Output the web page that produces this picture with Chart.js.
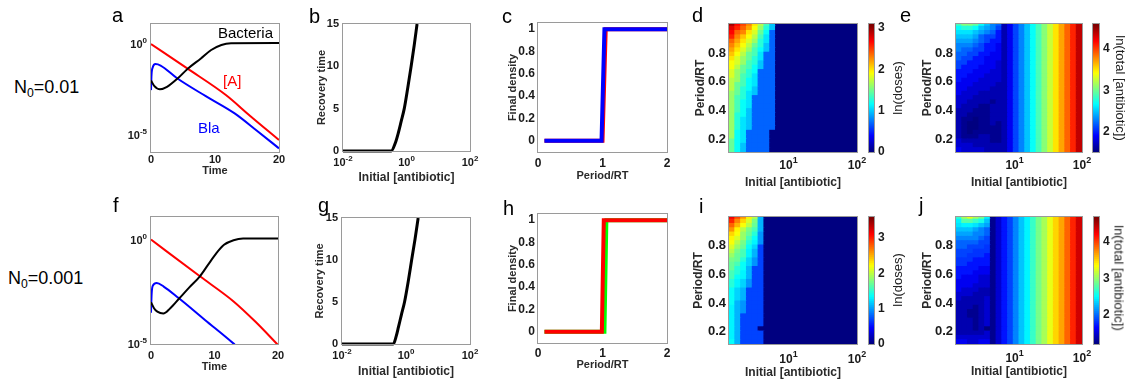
<!DOCTYPE html>
<html>
<head>
<meta charset="utf-8">
<title>Antibiotic dosing panels</title>
<script src="https://cdn.jsdelivr.net/npm/chart.js"></script>
<style>
  html, body { margin: 0; padding: 0; background: #fff; }
  body { position: relative; width: 1131px; height: 383px; overflow: hidden; font-family: "Liberation Sans", Arial, sans-serif; }
  canvas { position: absolute; }
  .t { position: absolute; white-space: nowrap; }
  .t sub { font-size: 0.68em; vertical-align: -0.32em; line-height: 0; }
</style>
</head>
<body>
<script>
const tBacteriaA = [0, 0.5, 1.4, 2.5, 4.2, 5.7, 7.8, 9.4, 11, 12.5, 20];
const bacteriaA = [-2.0, -2.3, -2.49, -2.35, -1.88, -1.37, -0.79, -0.33, -0.05, 0.04, 0.05];
const tAntibioticA = [0, 5.66, 11.7, 15.5, 20];
const antibioticA = [0, -1.34, -2.8, -3.95, -5.27];
const tBlaA = [0, 0.08, 0.25, 0.7, 1.5, 4.08, 8.5, 13.07, 16.5, 20];
const blaA = [-2.53, -1.7, -1.3, -1.1, -1.18, -1.88, -2.85, -3.81, -4.75, -5.73];

const tBacteriaF = [0, 0.5, 1, 1.94, 3, 4.5, 6, 7.7, 9, 10.3, 11.5, 13, 14.5, 20];
const bacteriaF = [-3.0, -3.3, -3.45, -3.54, -3.3, -2.8, -2.3, -1.76, -1.2, -0.65, -0.25, -0.03, 0.05, 0.05];
const tAntibioticF = [0, 7.7, 12.96, 16.5, 20];
const antibioticF = [0, -1.76, -2.95, -3.95, -5.05];
const tBlaF = [0, 0.1, 0.3, 0.9, 2, 4.3, 8.5, 12.96, 13.5];
const blaF = [-3.5, -2.6, -2.2, -2.08, -2.25, -2.79, -3.85, -4.97, -5.12];

// --- recovery time vs initial antibiotic (b, g) ---
const recDoseB = [0.01, 0.33, 0.45, 0.54, 0.68, 0.85, 1.1, 1.4, 1.75, 2.15];
const recTimeB = [0, 0, 1, 2, 3.5, 5, 7.5, 10, 12.5, 15];
const recDoseG = [0.01, 0.4, 0.5, 0.58, 0.72, 0.9, 1.18, 1.5, 1.92, 2.4];
const recTimeG = [0, 0, 1, 2, 3.5, 5, 7.5, 10, 12.5, 15];

// --- final density vs period (c, h) ---
const periodBlueC = [0.1, 0.985, 1.03, 2];
const densityBlueC = [0, 0, 1, 1];
const periodRedC = [0.1, 1.0, 1.05, 2];
const densityRedC = [0, 0, 1, 1];
const periodRedH = [0.1, 0.99, 1.02, 2];
const densityRedH = [0, 0, 1, 1];
const periodGreenH = [0.1, 1.03, 1.06, 2];
const densityGreenH = [0, 0, 1, 1];

// --- heatmap grid (d, e, i, j) ---
const initialEdges = [1.349, 1.641, 1.995, 2.427, 2.951, 3.589, 4.365, 5.309, 6.457, 7.852, 9.550, 11.61,
  14.13, 17.18, 20.89, 25.41, 30.90, 37.58, 45.71, 55.59, 67.61, 82.22, 100];
const periods = [1.00, 0.97, 0.94, 0.91, 0.88, 0.85, 0.82, 0.79, 0.76, 0.73, 0.70, 0.67, 0.64, 0.61, 0.58,
  0.55, 0.52, 0.49, 0.46, 0.43, 0.40, 0.37, 0.34, 0.31, 0.28, 0.25, 0.22, 0.19, 0.16, 0.13];
// one character per cell, value = index in LEVELS / 10 ; rows from period 1.00 down to 0.13
const LEVELS = '0123456789abcdefghijklmnopqrstuvwxyzABCDEFGHIJKLMNOPQRSTUVWXYZ';
const dosesN01 = [
  'urpnkhea00000000000000', 'sqomjgda00000000000000', 'ronkifc700000000000000', 'qnljheb700000000000000',
  'omkigdb700000000000000', 'nljhfda700000000000000', 'mkigeca700000000000000', 'ljhfeb7700000000000000',
  'kigfdb7700000000000000', 'jigeda7700000000000000', 'jhfeca7700000000000000', 'igfdc77700000000000000',
  'igedb77700000000000000', 'hgecb77700000000000000', 'hfecb77700000000000000', 'hfdca77700000000000000',
  'gfdba77700000000000000', 'gedb777700000000000000', 'gecb777700000000000000', 'gecb777700000000000000',
  'geca777700000000000000', 'gdca777700000000000000', 'gdba777700000000000000', 'gdba777700000000000000',
  'gdba777700000000000000', 'gcb7777000000000000000', 'gcb7777000000000000000', 'fcb7777000000000000000',
  'fca7777000000000000000', 'fca7777000000000000000'
];
const totalN01 = [
  'tvvurpnmhjlnprtvxzBDFI', 'rssrponlhjlnprtvxzBDFI', 'qqqponmkhjlnprtvxzBDFI', 'pppomllkhjlnprtvxzBDFI',
  'ooonmlkkhjlnprtvxzBDFI', 'nnnmlkkjhjlnprtvxzBDFI', 'nmmllkkjhjlnprtvxzBDFI', 'mmllkkjjhjlnprtvxzBDFI',
  'mllkkjjjhjlnprtvxzBDFI', 'llkkkjjihjlnprtvxzBDFI', 'lkkkjjjihjlnprtvxzBDFI', 'kkkjjjiihjlnprtvxzBDFI',
  'kkjjjiiihjlnprtvxzBDFI', 'kjjjiiiihjlnprtvxzBDFI', 'jjjiiiihhjlnprtvxzBDFI', 'jjiiiihhhjlnprtvxzBDFI',
  'jiiihhhhhjlnprtvxzBDFI', 'iiihhhhhhjlnprtvxzBDFI', 'iihhhhghhjlnprtvxzBDFI', 'ihhhgghhhjlnprtvxzBDFI',
  'hhhggghhhjlnprtvxzBDFI', 'hhgggghhhjlnprtvxzBDFI', 'hggfgghhhjlnprtvxzBDFI', 'hgffgghghjlnprtvxzBDFI',
  'hgffgggghjlnprtvxzBDFI', 'hgfggggghjlnprtvxzBDFI', 'hggghhgghjlnprtvxzBDFI', 'ihhhhhgghjlnprtvxzBDFI',
  'iiihhhhhhjlnprtvxzBDFI', 'jiiiihhhhjlnprtvxzBDFI'
];
const dosesN001 = [
  'wtqnkb0000000000000000', 'urolib0000000000000000', 'spmkhb0000000000000000', 'qnkigb0000000000000000',
  'omjhfa0000000000000000', 'nljgea0000000000000000', 'mkifda0000000000000000', 'ljhec70000000000000000',
  'kigdb70000000000000000', 'jhgdb70000000000000000', 'ihfca70000000000000000', 'hgeca70000000000000000',
  'hfeb770000000000000000', 'gfdb770000000000000000', 'gedb770000000000000000', 'fdca770000000000000000',
  'fdca770000000000000000', 'ecb7770000000000000000', 'ecb7770000000000000000', 'ecb7770000000000000000',
  'eba7770000000000000000', 'dba7770000000000000000', 'dba7770000000000000000', 'db77770000000000000000',
  'db77770000000000000000', 'db77770000000000000000', 'db77700000000000000000', 'db77770000000000000000',
  'db77770000000000000000', 'eb77770000000000000000'
];
const totalN001 = [
  'rvxvtpdfhjlnprtvxzBDFI', 'pssrqndfhjlnprtvxzBDFI', 'opponmdfhjlnprtvxzBDFI', 'nnnmlkdfhjlnprtvxzBDFI',
  'mmmllkdfhjlnprtvxzBDFI', 'llllkjdfhjlnprtvxzBDFI', 'kkkkjjdfhjlnprtvxzBDFI', 'kkjjjidfhjlnprtvxzBDFI',
  'jjjiiidfhjlnprtvxzBDFI', 'jjiiihdfhjlnprtvxzBDFI', 'iiihhhdfhjlnprtvxzBDFI', 'iihhhhdfhjlnprtvxzBDFI',
  'hhhhggdfhjlnprtvxzBDFI', 'hhhgggdfhjlnprtvxzBDFI', 'hgggffdfhjlnprtvxzBDFI', 'ggggffdfhjlnprtvxzBDFI',
  'gggfffdfhjlnprtvxzBDFI', 'gfffeedfhjlnprtvxzBDFI', 'fffeeedfhjlnprtvxzBDFI', 'feeeefdfhjlnprtvxzBDFI',
  'eeeeefdfhjlnprtvxzBDFI', 'eeedefdfhjlnprtvxzBDFI', 'eeddefdfhjlnprtvxzBDFI', 'eeddefdfhjlnprtvxzBDFI',
  'eeedefdfhjlnprtvxzBDFI', 'eeedefdfhjlnprtvxzBDFI', 'eeedecdfhjlnprtvxzBDFI', 'eeeeefdfhjlnprtvxzBDFI',
  'ffffffdfhjlnprtvxzBDFI', 'ggffggdfhjlnprtvxzBDFI'
];

// --- shared look ---
const FONT = '"Liberation Sans", Arial, sans-serif';
Chart.defaults.font.family = FONT;
Chart.defaults.font.size = 11;
Chart.defaults.font.weight = 'bold';
Chart.defaults.color = '#1a1a1a';

function jet(f) {
  f = Math.min(1, Math.max(0, f));
  f = Math.floor(f * 63.999) / 63;
  const c = v => Math.round(255 * Math.min(1, Math.max(0, v)));
  return `rgb(${c(1.5 - Math.abs(4 * f - 3))},${c(1.5 - Math.abs(4 * f - 2))},${c(1.5 - Math.abs(4 * f - 1))})`;
}

// grey box round the plot area
const boxFrame = {
  id: 'boxFrame',
  afterDatasetsDraw(chart) {
    const { ctx, chartArea: a } = chart;
    ctx.save();
    ctx.strokeStyle = '#9a9a9a';
    ctx.lineWidth = 1;
    ctx.strokeRect(Math.round(a.left) - 0.5, Math.round(a.top) - 0.5, Math.round(a.width) + 1, Math.round(a.height) + 1);
    ctx.restore();
  }
};

// "10" with a raised exponent for log axes
const powTicks = {
  id: 'powTicks',
  afterDraw(chart, args, opts) {
    const ctx = chart.ctx, area = chart.chartArea;
    const size = opts.size || 11, supSize = Math.round(size * 0.72);
    ['x', 'y'].forEach(id => {
      const exps = opts[id];
      if (!exps) return;
      const scale = chart.scales[id];
      exps.forEach(p => {
        const pix = scale.getPixelForValue(Math.pow(10, p));
        const sup = String(p);
        ctx.save();
        ctx.fillStyle = '#1a1a1a';
        ctx.textBaseline = 'alphabetic';
        ctx.font = `bold ${size}px ${FONT}`;
        const wBase = ctx.measureText('10').width;
        ctx.font = `bold ${supSize}px ${FONT}`;
        const wSup = ctx.measureText(sup).width;
        let left, base;
        if (id === 'x') {
          left = pix - (wBase + wSup) / 2;
          base = area.bottom + opts.pad + size * 0.72;
        } else {
          left = area.left - opts.pad - wBase - wSup;
          base = pix + size * 0.36;
        }
        ctx.font = `bold ${size}px ${FONT}`;
        ctx.fillText('10', left, base);
        ctx.font = `bold ${supSize}px ${FONT}`;
        ctx.fillText(sup, left + wBase, base - size * 0.45);
        ctx.restore();
      });
    });
  }
};

function axis(o) {
  return {
    type: o.type || 'linear',
    position: o.position,
    min: o.min, max: o.max,
    offset: false,
    grid: { display: false, drawTicks: false },
    border: { display: false },
    ticks: {
      display: !!o.ticks, padding: o.pad || 3, autoSkip: false, maxRotation: 0, font: { size: o.font || 11 },
      callback: v => String(Math.round(v * 100) / 100)
    },
    afterBuildTicks: s => { s.ticks = (o.ticks || []).map(v => ({ value: v })); },
    afterFit: s => {
      if (s.isHorizontal()) s.height = o.size; else s.width = o.size;
      s.paddingLeft = s.paddingRight = s.paddingTop = s.paddingBottom = 0;
    },
    title: o.title
      ? { display: true, text: o.title, padding: 0, font: { size: o.titleSize || 11 }, color: '#2a2a2a' }
      : { display: false }
  };
}

function makeChart(box, m, config) {
  const cv = document.createElement('canvas');
  cv.width = box.w + m.l + m.r;
  cv.height = box.h + m.t + m.b;
  cv.style.left = (box.x - m.l) + 'px';
  cv.style.top = (box.y - m.t) + 'px';
  cv.style.width = cv.width + 'px';
  cv.style.height = cv.height + 'px';
  document.body.appendChild(cv);
  const o = config.options;
  o.responsive = false;
  o.animation = false;
  o.devicePixelRatio = 1;
  o.events = [];
  o.layout = { padding: m.pad || { left: 0, top: m.t, right: m.r, bottom: 0 } };
  o.plugins = Object.assign({ legend: { display: false }, tooltip: { enabled: false } }, o.plugins);
  config.plugins = [boxFrame, powTicks];
  return new Chart(cv, config);
}

function curve(xs, ys, color, width, logY) {
  return {
    data: xs.map((x, i) => ({ x, y: logY ? Math.pow(10, ys[i]) : ys[i] })),
    borderColor: color, borderWidth: width, pointRadius: 0, fill: false,
    cubicInterpolationMode: 'monotone'
  };
}

function steps(xs, ys, color) {
  return { data: xs.map((x, i) => ({ x, y: ys[i] })), borderColor: color, borderWidth: 4, pointRadius: 0, tension: 0, clip: 4 };
}

function timePanel(box, m, sets, yMinExp, yMaxExp) {
  makeChart(box, m, {
    type: 'line',
    data: { datasets: sets },
    options: {
      scales: {
        x: axis({ type: 'linear', min: 0, max: 20, ticks: [0, 10, 20], size: m.b, pad: m.tickPad, title: 'Time' }),
        y: axis({ type: 'logarithmic', min: Math.pow(10, yMinExp), max: Math.pow(10, yMaxExp), size: m.l })
      },
      plugins: { powTicks: { y: [0, -5], pad: 4, size: 11 } }
    }
  });
}

function recoveryPanel(box, m, doses, times) {
  const set = curve(doses, times, '#000', 3, false);
  set.clip = 4;
  makeChart(box, m, {
    type: 'line',
    data: { datasets: [set] },
    options: {
      scales: {
        x: axis({ type: 'logarithmic', min: 0.01, max: 100, size: m.b, title: 'Initial [antibiotic]', titleSize: 12 }),
        y: axis({ min: 0, max: 15, ticks: [0, 5, 10, 15], size: m.l, pad: 4, title: 'Recovery time' })
      },
      plugins: { powTicks: { x: [-2, 0, 2], pad: 7, size: 11 } }
    }
  });
}

function densityPanel(box, m, sets) {
  makeChart(box, m, {
    type: 'line',
    data: { datasets: sets },
    options: {
      scales: {
        x: axis({ min: 0, max: 2, ticks: [0, 1, 2], size: m.b, pad: m.tickPad, font: 12, title: 'Period/RT' }),
        y: axis({ min: -0.1, max: 1.055, ticks: [0, 0.2, 0.4, 0.6, 0.8, 1], size: m.l, pad: 3, font: 12, title: 'Final density' })
      }
    }
  });
}

function heatmap(box, m, rows, cmin, cmax) {
  const cells = [], colors = [];
  rows.forEach((row, r) => {
    [...row].forEach((ch, c) => {
      const v = LEVELS.indexOf(ch) / 10;
      cells.push({ y: periods[r], x: [initialEdges[c], initialEdges[c + 1]] });
      colors.push(jet((v - cmin) / (cmax - cmin)));
    });
  });
  makeChart(box, m, {
    type: 'bar',
    data: { datasets: [{ data: cells, backgroundColor: colors, borderWidth: 0, barPercentage: 1, categoryPercentage: 1, inflateAmount: 0.5 }] },
    options: {
      indexAxis: 'y',
      scales: {
        x: axis({ type: 'logarithmic', min: initialEdges[0], max: 100, size: m.b, title: 'Initial [antibiotic]', titleSize: 12 }),
        y: axis({ min: 0.115, max: 1.0, ticks: [0.2, 0.4, 0.6, 0.8], size: m.l, pad: 3, font: 13, title: 'Period/RT', titleSize: 12 })
      },
      plugins: { powTicks: { x: [1, 2], pad: m.tickPad, size: 12 } }
    }
  });
}

function colorbar(box, cmin, cmax, ticks) {
  const n = 64, step = (cmax - cmin) / n;
  const bands = [], colors = [];
  for (let k = 0; k < n; k++) {
    bands.push({ x: 'c', y: [cmin + k * step, cmin + (k + 1) * step] });
    colors.push(jet((k + 0.5) / n));
  }
  const m = { l: 4, t: 10, r: 24, b: 10 };
  m.pad = { left: m.l, top: m.t, right: 0, bottom: m.b };
  makeChart(box, m, {
    type: 'bar',
    data: { labels: ['c'], datasets: [{ data: bands, backgroundColor: colors, borderWidth: 0, barPercentage: 1, categoryPercentage: 1, inflateAmount: 0.5 }] },
    options: {
      scales: {
        x: { type: 'category', display: false },
        y: axis({ position: 'right', min: cmin, max: cmax, ticks, size: m.r, pad: 4, font: 12 })
      }
    }
  });
}

// --- row N0 = 0.01 ---
timePanel({ x: 151, y: 24, w: 128, h: 128 }, { l: 50, t: 10, r: 20, b: 26, tickPad: 1 }, [
  curve(tBacteriaA, bacteriaA, '#000000', 2, true),
  curve(tAntibioticA, antibioticA, '#ff0000', 2, true),
  curve(tBlaA, blaA, '#0000ff', 2, true)
], -5.93, 1.1);
recoveryPanel({ x: 343, y: 24, w: 127, h: 127 }, { l: 28, t: 10, r: 20, b: 34 }, recDoseB, recTimeB);
densityPanel({ x: 538, y: 23, w: 129, h: 129 }, { l: 32, t: 10, r: 15, b: 31, tickPad: 4 }, [
  steps(periodBlueC, densityBlueC, '#0000ff'),
  steps(periodRedC, densityRedC, '#ff0000')
]);
heatmap({ x: 729, y: 24, w: 128, h: 128 }, { l: 36, t: 10, r: 15, b: 38, tickPad: 8 }, dosesN01, 0, 3.1);
colorbar({ x: 869, y: 24, w: 5, h: 128 }, 0, 3.1, [0, 1, 2, 3]);
heatmap({ x: 956, y: 24, w: 126, h: 128 }, { l: 36, t: 10, r: 15, b: 38, tickPad: 8 }, totalN01, 1.52, 4.6);
colorbar({ x: 1093, y: 24, w: 6, h: 128 }, 1.52, 4.6, [2, 3, 4]);

// --- row N0 = 0.001 ---
timePanel({ x: 151, y: 217, w: 127, h: 127 }, { l: 50, t: 10, r: 20, b: 30, tickPad: 5 }, [
  curve(tBacteriaF, bacteriaF, '#000000', 2, true),
  curve(tAntibioticF, antibioticF, '#ff0000', 2, true),
  curve(tBlaF, blaF, '#0000ff', 2, true)
], -5, 1.08);
recoveryPanel({ x: 342, y: 218, w: 128, h: 126 }, { l: 29, t: 10, r: 20, b: 35 }, recDoseG, recTimeG);
densityPanel({ x: 538, y: 214, w: 129, h: 129 }, { l: 32, t: 10, r: 15, b: 29, tickPad: 3 }, [
  steps(periodRedH, densityRedH, '#ff0000'),
  steps(periodGreenH, densityGreenH, '#00ff00')
]);
heatmap({ x: 729, y: 217, w: 128, h: 127 }, { l: 38, t: 10, r: 15, b: 36, tickPad: 10 }, dosesN001, 0, 3.6);
colorbar({ x: 869, y: 217, w: 5, h: 127 }, 0, 3.6, [0, 1, 2, 3]);
heatmap({ x: 956, y: 217, w: 126, h: 127 }, { l: 36, t: 10, r: 15, b: 35, tickPad: 9 }, totalN001, 1.2, 4.68);
colorbar({ x: 1094, y: 217, w: 5, h: 127 }, 1.2, 4.68, [2, 3, 4]);

// --- free text: panel letters, row labels, in-plot and colour bar labels ---
function addText(html, x, baseline, size, css) {
  const d = document.createElement('div');
  d.className = 't';
  d.innerHTML = html;
  d.style.left = x + 'px';
  d.style.top = (baseline - 0.8465 * size) + 'px';
  d.style.fontSize = size + 'px';
  d.style.lineHeight = size + 'px';
  if (css) d.style.cssText += css;
  document.body.appendChild(d);
}
function addVertical(text, cx, cy, size, deg) {
  const d = document.createElement('div');
  d.className = 't';
  d.textContent = text;
  d.style.cssText += `left:${cx}px;top:${cy}px;font-size:${size}px;line-height:${size}px;color:#222;transform:translate(-50%,-50%) rotate(${deg}deg);`;
  document.body.appendChild(d);
}

[['a', 112, 22], ['b', 309, 23], ['c', 502, 23], ['d', 692, 22], ['e', 900, 22],
 ['f', 113, 212], ['g', 318, 212], ['h', 503, 215], ['i', 699, 213], ['j', 919, 212]]
  .forEach(([s, x, y]) => addText(s, x, y, 20));

addText('N<sub>0</sub>=0.01', 14, 93, 18);
addText('N<sub>0</sub>=0.001', 8, 284, 18);
addText('Bacteria', 218, 38, 15);
addText('[A]', 223, 86, 15, 'color:#ff0000;');
addText('Bla', 198, 133, 15, 'color:#0000ff;');

addVertical('ln(doses)', 897, 88, 13, -90);
addVertical('ln(doses)', 897, 280, 13, -90);
addVertical('ln(total [antibiotic])', 1120, 88, 13, 90);
addVertical('ln(total [antibiotic])', 1119, 278, 13, 90);
</script>
</body>
</html>
